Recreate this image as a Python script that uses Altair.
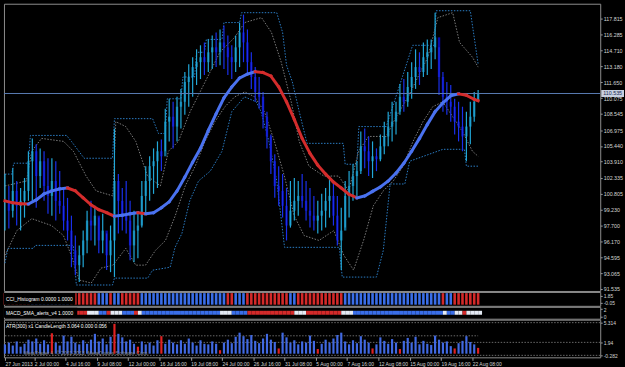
import altair as alt
import numpy as np
import pandas as pd

# ------------------------------------------------------------------ data
price_ticks = [117.815, 116.285, 114.710, 113.180, 111.650, 110.075, 108.545, 106.975,
               105.440, 103.910, 102.335, 100.805, 99.230, 97.700, 96.170, 94.595,
               93.065, 91.535]
last_price = 110.535

date_labels = ["27 Jun 2013", "2 Jul 00:00", "4 Jul 16:00", "9 Jul 08:00", "12 Jul 00:00",
               "16 Jul 16:00", "19 Jul 08:00", "24 Jul 00:00", "26 Jul 16:00", "31 Jul 08:00",
               "5 Aug 00:00", "7 Aug 16:00", "12 Aug 08:00", "15 Aug 00:00", "19 Aug 16:00",
               "22 Aug 08:00"]
date_bars = [0, 15, 31, 47, 63, 79, 95, 111, 127, 143, 159, 175, 191, 207, 223, 239]

# one entry for every second H4 bar
bar_high = [102.70, 101.55, 103.28, 102.03, 101.35, 102.32, 104.92, 106.17, 105.59, 105.20,
            104.92, 104.24, 104.24, 103.95, 102.99, 101.35, 100.39, 98.66, 96.73, 95.77,
            97.21, 99.14, 100.10, 99.62, 98.47, 98.85, 96.93, 97.70, 107.13, 102.70,
            101.35, 102.03, 100.10, 99.14, 98.85, 102.03, 103.47, 104.43, 105.20, 105.88,
            106.07, 109.06, 110.02, 109.73, 110.21, 110.98, 112.62, 113.39, 114.06, 114.83,
            115.22, 115.50, 115.79, 116.18, 116.47, 116.76, 117.14, 116.18, 115.22, 116.18,
            117.43, 118.20, 116.76, 114.54, 113.10, 112.14, 110.69, 108.77, 106.55, 104.63,
            103.47, 102.70, 101.35, 102.03, 102.32, 102.03, 102.70, 102.03, 101.35, 100.58,
            100.10, 100.78, 101.35, 102.51, 102.03, 100.58, 99.43, 102.03, 102.99, 103.66,
            103.95, 106.84, 107.13, 106.36, 105.88, 105.20, 106.55, 107.80, 108.77, 109.73,
            109.73, 111.46, 111.94, 112.62, 113.58, 114.83, 114.54, 115.50, 115.79, 115.79,
            118.39, 115.02, 112.62, 111.65, 111.36, 110.02, 109.73, 109.25, 108.77, 109.73,
            110.69, 110.88]
bar_low = [97.21, 97.41, 98.47, 97.70, 97.21, 98.47, 100.10, 100.10, 99.43, 101.35,
           100.10, 98.85, 98.66, 98.18, 98.85, 97.21, 96.25, 93.65, 92.88, 92.21,
           93.65, 95.00, 96.25, 95.77, 95.00, 95.00, 93.37, 93.17, 92.69, 96.93,
           97.21, 96.93, 94.33, 94.14, 94.52, 97.50, 98.85, 100.10, 100.78, 101.35,
           102.99, 104.92, 105.88, 105.20, 105.88, 107.13, 108.48, 109.25, 110.21, 111.36,
           111.94, 112.33, 112.62, 112.91, 113.10, 113.29, 112.91, 112.33, 111.94, 112.62,
           113.10, 113.58, 112.33, 110.98, 109.73, 109.06, 107.13, 105.20, 102.70, 100.39,
           99.62, 98.47, 96.25, 97.50, 98.18, 98.66, 99.43, 98.18, 97.50, 97.21,
           96.93, 97.21, 97.50, 98.47, 97.70, 95.77, 93.37, 97.50, 98.47, 100.10,
           100.58, 102.70, 103.28, 102.51, 102.32, 102.99, 103.95, 104.63, 105.40, 105.88,
           106.55, 108.48, 108.77, 109.25, 110.02, 110.98, 111.36, 112.14, 112.33, 112.91,
           113.87, 110.40, 108.77, 108.48, 107.80, 106.55, 105.88, 104.92, 103.95, 105.59,
           107.80, 109.73]
bar_close = [100.10, 99.14, 101.07, 99.62, 100.10, 101.07, 103.95, 104.92, 102.51, 103.95,
             101.55, 100.58, 102.03, 100.10, 99.62, 98.18, 97.21, 95.29, 93.85, 94.81,
             96.25, 98.18, 97.70, 98.66, 96.25, 97.21, 94.81, 96.25, 102.03, 100.10,
             98.66, 98.18, 95.77, 97.21, 97.70, 100.58, 102.03, 103.47, 103.95, 104.92,
             104.43, 107.80, 108.28, 107.32, 109.25, 109.73, 111.65, 112.14, 113.10, 113.58,
             114.06, 113.58, 114.54, 115.02, 114.54, 115.50, 115.02, 114.06, 113.58, 115.02,
             116.47, 115.50, 113.58, 112.14, 110.69, 110.21, 108.28, 106.36, 103.95, 101.55,
             101.07, 99.62, 97.70, 99.14, 100.10, 100.58, 100.10, 99.14, 98.66, 98.18,
             98.66, 99.14, 100.10, 100.58, 98.66, 96.25, 97.21, 100.58, 101.55, 102.51,
             102.99, 105.40, 104.92, 103.95, 104.43, 104.14, 105.40, 106.36, 107.32, 107.80,
             108.77, 110.21, 109.73, 111.17, 112.14, 113.10, 112.62, 114.06, 114.54, 115.02,
             115.99, 112.14, 110.21, 109.73, 109.25, 107.80, 107.32, 106.36, 107.32, 108.28,
             109.73, 110.54]

# moving average, one value every fourth H4 bar (+ last bar)
ma_bars = [0, 4, 8, 12, 16, 20, 24, 28, 32, 36, 40, 44, 48, 52, 56, 60, 64, 68, 72, 76,
           80, 84, 88, 92, 96, 100, 104, 108, 112, 116, 120, 124, 128, 132, 136, 140, 144,
           148, 152, 156, 160, 164, 168, 172, 176, 180, 184, 188, 192, 196, 200, 204, 208,
           212, 216, 220, 224, 228, 232, 236, 240, 242]
ma_values = [100.10, 99.91, 99.81, 99.80, 100.20, 100.78, 101.07, 101.26, 101.35, 101.07,
             100.39, 99.72, 99.24, 98.95, 98.61, 98.71, 98.85, 98.95, 98.85, 98.95,
             99.43, 100.01, 101.07, 102.41, 103.86, 105.20, 106.94, 108.57, 110.11, 111.17,
             112.04, 112.42, 112.66, 112.57, 112.23, 111.17, 109.73, 108.00, 106.17, 104.72,
             103.57, 102.70, 101.93, 101.35, 100.73, 100.39, 100.58, 101.02, 101.45, 102.03,
             102.80, 103.76, 104.92, 106.17, 107.51, 108.77, 109.63, 110.31, 110.50, 110.36,
             109.97, 109.83]

# channel lines as (bar, price) break points
blue_upper = [(0, 102.70), (3.5, 102.70), (4.5, 103.76), (12, 103.76), (13, 106.46),
              (31.5, 106.46), (34, 105.88), (40.5, 104.24), (55, 104.24), (56, 108.09),
              (75.5, 108.09), (78.5, 106.65), (82, 106.65), (83, 110.02), (90, 110.02),
              (91, 112.14), (97, 112.14), (98, 114.54), (102, 114.54), (103, 115.79),
              (111, 115.79), (112, 117.43), (120, 117.43), (121, 118.39), (139, 118.39),
              (142, 116.47), (144, 113.29), (147, 111.65), (150.5, 108.77), (154.5, 105.69),
              (173, 105.69), (174, 103.66), (180, 103.66), (181, 107.32), (195, 107.32),
              (208.5, 115.22), (219.5, 115.22), (220.5, 118.58), (238, 118.58), (242, 113.39)]
blue_lower = [(0, 94.04), (1.5, 95.48), (14.5, 95.48), (15.5, 95.77), (35, 95.77),
              (36.5, 91.92), (55, 91.92), (56, 92.59), (73, 92.59), (75.5, 93.36),
              (84.5, 93.65), (87, 95.58), (90.5, 96.93), (94.5, 100.10), (99, 102.03),
              (105, 102.99), (111, 104.92), (116, 108.77), (122.5, 110.21), (128.5, 109.73),
              (131, 108.77), (135, 105.88), (139, 102.03), (143, 95.58), (171, 95.58),
              (172.5, 92.69), (190, 92.69), (193.5, 95.29), (197, 101.74), (204.5, 101.74),
              (207, 103.95), (224, 105.11), (235, 105.11), (236, 103.47), (242, 103.47)]
gray_upper = [(0, 101.55), (11, 102.03), (13.7, 104.92), (18.7, 106.17), (30, 105.88),
              (35, 104.92), (41.5, 102.51), (46.6, 101.07), (55.2, 100.58), (56.7, 107.80),
              (61.8, 107.32), (66.9, 105.88), (72.9, 102.51), (79.5, 101.55), (83.6, 104.92),
              (88.7, 105.88), (94.7, 108.77), (99.8, 110.69), (104.9, 112.62), (109.9, 114.54),
              (117.5, 115.99), (122.6, 117.43), (131.2, 117.91), (136.3, 116.47), (141.3, 113.58),
              (146.4, 109.73), (150.5, 105.88), (155.5, 103.47), (163.1, 102.51), (170.7, 102.51),
              (175.8, 101.07), (180.9, 104.92), (185.9, 106.36), (195, 106.36), (200.1, 108.28),
              (206.2, 110.21), (211.2, 112.14), (216.3, 114.06), (221.4, 117.91), (229, 118.39),
              (232.5, 115.50), (239.1, 114.06), (242, 113.10)]
gray_lower = [(0, 94.81), (6.1, 97.21), (13.7, 98.37), (23.8, 97.70), (29.9, 96.73),
              (33.9, 94.81), (38, 92.40), (44.1, 92.11), (49.1, 93.56), (55.2, 93.85),
              (61.8, 95.48), (66.9, 93.85), (71.9, 93.85), (77, 95.29), (82.1, 96.25),
              (87.1, 98.66), (92.2, 101.55), (97.3, 103.47), (102.3, 105.88), (107.4, 107.80),
              (112.5, 109.25), (117.5, 110.21), (122.6, 110.69), (127.7, 110.21), (132.7, 108.77),
              (137.8, 105.88), (142.9, 102.51), (147.9, 98.66), (153, 96.73), (160.6, 96.25),
              (168.2, 97.21), (173.3, 94.81), (178.3, 93.37), (183.4, 96.25), (188.4, 99.62),
              (193.5, 101.07), (198.6, 102.03), (203.6, 103.47), (208.7, 105.88), (213.8, 107.80),
              (218.8, 109.25), (223.9, 109.73), (229, 108.28), (234, 106.84), (239.1, 104.92),
              (242, 104.43)]

# indicator strips, run-length (state, number of plotted bars)
cci_runs = [("R", 7), ("B", 10), ("R", 7), ("B", 3), ("R", 1), ("B", 2), ("R", 5), ("B", 22),
            ("R", 2), ("B", 3), ("R", 11), ("B", 2), ("R", 12), ("B", 25), ("R", 1), ("B", 2),
            ("R", 7)]
cci_level = 1.0
macd_runs = [("R", 21), ("W", 3), ("B", 2), ("R", 1), ("W", 3), ("B", 3), ("R", 1), ("W", 1),
             ("B", 20), ("W", 3), ("B", 4), ("R", 12), ("W", 3), ("R", 9), ("W", 3), ("B", 23),
             ("W", 1), ("B", 2), ("W", 2), ("R", 1), ("W", 4)]
macd_level = 1.0

atr_len = [1.6, 1.9, 1.4, 2.1, 1.2, 1.7, 2.4, 2.1, 2.6, 1.7,
           2.3, 1.6, 3.5, 1.9, 1.4, 3.1, 2.1, 2.9, 1.9, 1.6,
           2.3, 1.7, 2.4, 3.4, 2.1, 2.6, 1.6, 2.9, 5.1, 3.4,
           2.8, 2.1, 2.4, 1.7, 1.2, 2.1, 1.6, 1.9, 1.4, 2.3,
           3.0, 1.7, 2.4, 1.9, 1.6, 2.3, 1.7, 2.6, 1.9, 1.4,
           2.3, 1.7, 1.6, 2.1, 1.7, 0.6, 1.9, 2.4, 1.8, 2.9,
           3.6, 3.0, 2.5, 3.2, 2.2, 1.8, 2.6, 3.4, 2.4, 2.0,
           0.9, 3.6, 2.8, 1.9, 2.3, 1.6, 2.1, 1.9, 3.1, 2.2,
           0.8, 1.7, 2.4, 1.9, 2.6, 3.2, 3.6, 2.1, 1.6, 2.3,
           1.8, 3.0, 2.4, 1.9, 0.9, 1.6, 2.8, 2.2, 1.7, 2.5,
           1.9, 0.8, 2.2, 2.7, 1.9, 2.9, 1.6, 2.2, 1.7, 1.5,
           3.1, 2.4, 1.9, 2.1, 1.3, 0.9, 1.8, 2.2, 3.0, 2.0,
           1.6, 1.0]
atr_red = [12, 28, 34, 40, 55, 70, 80, 94, 101, 115, 121]
atr_avg = 3.064
atr_levels = [5.314, 1.94, -0.282]

# ------------------------------------------------------------------ layout / style
FONT = "Liberation Sans"
FS = 5.0
W = 602
H_MAIN, H_CCI, H_MACD, H_ATR = 290, 14, 12, 38
X_DOMAIN = [-0.507, 304.45]
Y_DOMAIN = [91.34, 119.26]
LABEL_COLOR = "#d4d4d4"
TICK_COLOR = "#9a9a9a"
STATE_COLORS = {"R": "#d42a2a", "B": "#3a6ee8", "W": "#e4eaf4"}

xs = alt.Scale(domain=X_DOMAIN, nice=False, zero=False)
ys = alt.Scale(domain=Y_DOMAIN, nice=False, zero=False)

y_axis = alt.Axis(orient="right", values=price_ticks, labelExpr="format(datum.value, '.3f')",
                  labelOverlap=False, labelFontSize=5.4, labelColor=LABEL_COLOR,
                  tickSize=2, tickColor=TICK_COLOR, labelPadding=1, domain=False, grid=False)

n = len(bar_high)
bars = pd.DataFrame({"bar": [2 * j for j in range(n)], "high": bar_high,
                     "low": bar_low, "close": bar_close})
bars["open"] = bars["close"].shift(1).fillna(bars["close"])
up = bars["close"] >= bars["open"]
bars["body_col"] = np.where(up, "#126e94", "#0a0aa8")
bars["wick_col"] = np.where(up, "#22a8d8", "#1a30ec")

ma = pd.DataFrame({"bar": ma_bars, "v": ma_values})
ma["bar2"] = ma["bar"].shift(-1)
ma["v2"] = ma["v"].shift(-1)
ma = ma.dropna()
ma["col"] = np.where(ma["v2"] >= ma["v"], "#4a72f0", "#d42c2c")

rows = []
for name, col, pts in [("bu", "#2a7cc4", blue_upper), ("bl", "#2a7cc4", blue_lower),
                       ("gu", "#7c7c7c", gray_upper), ("gl", "#7c7c7c", gray_lower)]:
    for b, p in pts:
        rows.append({"line": name, "col": col, "bar": b, "price": p})
chan = pd.DataFrame(rows)

X = alt.X("bar:Q", scale=xs, axis=None, title=None)

chan_layer = alt.Chart(chan).mark_line(strokeWidth=1, strokeDash=[1.5, 1.5]).encode(
    x=X, y=alt.Y("price:Q", scale=ys, axis=y_axis, title=None),
    detail="line:N", color=alt.Color("col:N", scale=None))

body_layer = alt.Chart(bars).mark_rule(strokeWidth=2.4).encode(
    x=X, y=alt.Y("open:Q", scale=ys, axis=y_axis, title=None), y2="close:Q",
    color=alt.Color("body_col:N", scale=None))

wick_layer = alt.Chart(bars).mark_rule(strokeWidth=1.2).encode(
    x=X, y=alt.Y("high:Q", scale=ys, axis=y_axis, title=None), y2="low:Q",
    color=alt.Color("wick_col:N", scale=None))

hline = pd.DataFrame({"p": [last_price], "b0": [last_price - 0.34], "b1": [last_price + 0.34],
                      "label": [f"{last_price:.3f}"]})
hline_layer = alt.Chart(hline).mark_rule(color="#5a7cb4", strokeWidth=1).encode(
    y=alt.Y("p:Q", scale=ys, axis=y_axis, title=None))

ma_layer = alt.Chart(ma).mark_rule(strokeWidth=3, strokeCap="square").encode(
    x=X, x2="bar2:Q", y=alt.Y("v:Q", scale=ys, axis=y_axis, title=None), y2="v2:Q",
    color=alt.Color("col:N", scale=None))

box_layer = alt.Chart(hline).mark_rect(color="#c8d0e0").encode(
    x=alt.value(W + 1), x2=alt.value(W + 24),
    y=alt.Y("b0:Q", scale=ys, axis=y_axis, title=None), y2="b1:Q")
box_text = alt.Chart(hline).mark_text(align="left", baseline="middle", fontSize=5.4,
                                      font=FONT, color="#1a2850").encode(
    x=alt.value(W + 3), y=alt.Y("p:Q", scale=ys, axis=y_axis, title=None), text="label:N")

main = alt.layer(chan_layer, body_layer, wick_layer, hline_layer, ma_layer,
                 box_layer, box_text).properties(width=W, height=H_MAIN)


def expand(runs):
    out = []
    for s, k in runs:
        out.extend([s] * k)
    return out


def panel_label(text, w, h, ypos):
    d = pd.DataFrame({"t": [text]})
    bg = alt.Chart(d).mark_rect(color="#000000").encode(
        x=alt.value(0), x2=alt.value(w), y=alt.value(1), y2=alt.value(h))
    tx = alt.Chart(d).mark_text(align="left", baseline="middle", fontSize=FS, font=FONT,
                                color="#ffffff").encode(
        x=alt.value(2), y=alt.value(ypos), text="t:N")
    return bg, tx


# CCI histogram strip
cci = pd.DataFrame({"bar": [2 * j for j in range(n)], "s": expand(cci_runs)})
cci["col"] = cci["s"].map(STATE_COLORS)
cci["lvl"] = cci_level
cci["base"] = 0.0
cci_scale = alt.Scale(domain=[-0.1, 1.1], nice=False, zero=False)
cci_axis = alt.Axis(orient="right", values=[0.75, 0.15],
                    labelExpr="datum.value > 0.5 ? '1.85' : '-0.05'",
                    labelFontSize=FS, labelColor=LABEL_COLOR, tickSize=2, tickColor=TICK_COLOR,
                    labelPadding=1, domain=False, grid=False, labelOverlap=False)
cci_bars = alt.Chart(cci).mark_rule(strokeWidth=2.6).encode(
    x=X, y=alt.Y("base:Q", scale=cci_scale, axis=cci_axis, title=None), y2="lvl:Q",
    color=alt.Color("col:N", scale=None))
cbg, ctx = panel_label("CCI_Histogram 0.0000 1.0000", 72, 13, 7)
cci_panel = alt.layer(cci_bars, cbg, ctx).properties(width=W, height=H_CCI)

# MACD alert strip
macd = pd.DataFrame({"bar": [2 * j for j in range(n)], "s": expand(macd_runs)})
macd["col"] = macd["s"].map(STATE_COLORS)
macd["bar2"] = macd["bar"] + 2
macd["lvl"] = macd_level
macd_scale = alt.Scale(domain=[-0.6, 2.6], nice=False, zero=False)
macd_axis = alt.Axis(orient="right", values=[2, 0], labelExpr="toString(datum.value)",
                     labelFontSize=FS, labelColor=LABEL_COLOR, tickSize=2, tickColor=TICK_COLOR,
                     labelPadding=1, domain=False, grid=False, labelOverlap=False)
macd_strip = alt.Chart(macd).mark_rule(strokeWidth=4).encode(
    x=X, x2="bar2:Q", y=alt.Y("lvl:Q", scale=macd_scale, axis=macd_axis, title=None),
    color=alt.Color("col:N", scale=None))
mbg, mtx = panel_label("MACD_SMA_alerts_v4 1.0000", 74, 11, 6)
macd_panel = alt.layer(macd_strip, mbg, mtx).properties(width=W, height=H_MACD)

# ATR / candle length histogram
atr = pd.DataFrame({"bar": [2 * j for j in range(n)], "len": atr_len})
atr["col"] = ["#e02222" if j in atr_red else "#4169e1" for j in range(n)]
atr["base"] = 0.0
atr_scale = alt.Scale(domain=[-0.621, 5.818], nice=False, zero=False)
atr_axis = alt.Axis(orient="right", values=atr_levels, labelExpr="toString(datum.value)",
                    labelFontSize=FS, labelColor=LABEL_COLOR, tickSize=2, tickColor=TICK_COLOR,
                    labelPadding=1, domain=False, grid=False, labelOverlap=False)
x_label_expr = ("[" + ",".join("'" + s + "'" for s in date_labels) + "][indexof(["
                + ",".join(str(b) for b in date_bars) + "], datum.value)]")
x_axis = alt.Axis(orient="bottom", values=date_bars, labelExpr=x_label_expr, labelAlign="left",
                  labelFontSize=FS, labelColor=LABEL_COLOR, tickSize=3, tickColor=TICK_COLOR,
                  labelPadding=1, domain=False, grid=False, labelOverlap=False, labelFlush=False)
XA = alt.X("bar:Q", scale=xs, axis=x_axis, title=None)

lv = pd.DataFrame({"v": atr_levels})
atr_lv = alt.Chart(lv).mark_rule(color="#6a6a6a", strokeDash=[1.5, 1.5], strokeWidth=1).encode(
    y=alt.Y("v:Q", scale=atr_scale, axis=atr_axis, title=None))
avg = pd.DataFrame({"bar": [0], "bar2": [242], "v": [atr_avg]})
atr_avg_layer = alt.Chart(avg).mark_rule(color="#6a6a6a", strokeDash=[1.5, 1.5]).encode(
    x=XA, x2="bar2:Q", y=alt.Y("v:Q", scale=atr_scale, axis=atr_axis, title=None))
atr_bars = alt.Chart(atr).mark_rule(strokeWidth=2.2).encode(
    x=XA, y=alt.Y("base:Q", scale=atr_scale, axis=atr_axis, title=None), y2="len:Q",
    color=alt.Color("col:N", scale=None))
atr_title = alt.Chart(pd.DataFrame({"t": ["ATR(300) x1 CandleLength 3.064 0.000 0.056"]})).mark_text(
    align="left", baseline="middle", fontSize=FS, font=FONT, color="#ffffff").encode(
    x=alt.value(2), y=alt.value(6.5), text="t:N")
atr_mark = alt.Chart(pd.DataFrame({"t": ["MetaTrader 4, \u00a9 2001-2013, MetaQuotes Software Corp."]})).mark_text(
    align="left", baseline="middle", fontSize=FS, font=FONT, color="#8a8a8a").encode(
    x=alt.value(20), y=alt.value(34), text="t:N")
atr_panel = alt.layer(atr_lv, atr_avg_layer, atr_bars, atr_title, atr_mark).properties(
    width=W, height=H_ATR)

chart = alt.vconcat(main, cci_panel, macd_panel, atr_panel, spacing=1, bounds="flush").properties(
    padding={"left": 2, "top": 1, "right": 0, "bottom": 0}
).configure(background="#000000", font=FONT).configure_view(
    stroke="#8e8e8e", strokeWidth=1, fill="#000000")

chart.save("out.html", embed_options={"renderer": "svg", "actions": False})
